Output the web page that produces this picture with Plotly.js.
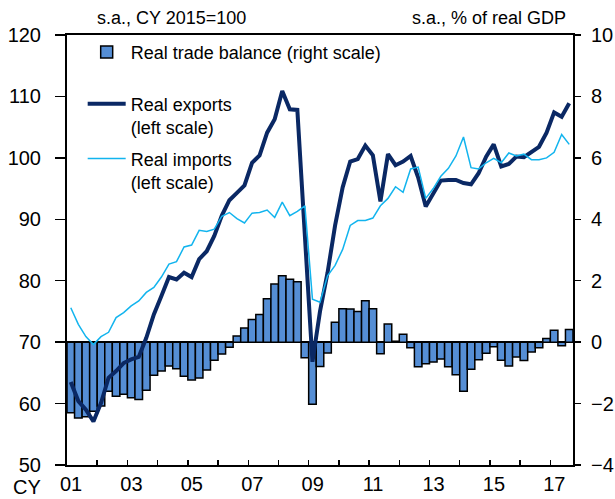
<!DOCTYPE html>
<html>
<head>
<meta charset="utf-8">
<script src="https://cdn.plot.ly/plotly-3.0.1.min.js"></script>
<style>html,body{margin:0;padding:0;background:#fff;}#chart{width:615px;height:499px;}</style>
</head>
<body>
<div id="chart"></div>
<script>
// Quarterly data, CY2001 Q1 .. CY2017 Q3
const startYear = 2001;
const tradeBalance = [
  -2.30, -2.47, -2.43, -2.25, -2.08, -1.60, -1.76, -1.70, -1.81, -1.87,
  -1.57, -1.08, -0.94, -0.78, -0.87, -1.11, -1.23, -1.17, -0.91, -0.59,
  -0.39, -0.17, 0.20, 0.46, 0.74, 0.90, 1.41, 1.89, 2.16, 2.05,
  1.97, -0.51, -2.02, -0.79, -0.35, 0.65, 1.09, 1.08, 1.00, 1.35,
  1.09, -0.38, 0.59, 0.03, 0.26, -0.18, -0.80, -0.70, -0.65, -0.55,
  -0.80, -1.06, -1.60, -0.88, -0.57, -0.36, -0.15, -0.59, -0.78, -0.48,
  -0.60, -0.32, -0.18, 0.12, 0.39, -0.12, 0.41
];
const realExports = [
  63.5, 60.4, 59.0, 57.1, 60.1, 64.2, 65.3, 66.6, 67.2, 67.6,
  70.7, 74.5, 77.5, 80.6, 80.2, 81.3, 80.6, 83.5, 84.8, 87.3,
  90.6, 93.1, 94.3, 95.5, 99.2, 100.4, 104.1, 106.3, 110.9, 107.9,
  107.8, 87.3, 66.8, 75.0, 81.3, 89.0, 95.2, 99.4, 99.8, 102.0,
  100.4, 92.9, 100.6, 98.8, 99.4, 100.3, 96.8, 92.1, 94.2, 96.3,
  96.4, 96.4, 95.9, 95.7, 97.5, 100.2, 102.2, 98.6, 99.0, 100.2,
  100.1, 100.9, 101.8, 104.1, 107.4, 106.7, 108.9
];
const realImports = [
  75.6, 72.9, 70.9, 69.6, 70.9, 71.6, 74.0, 74.8, 75.9, 76.7,
  78.1, 78.9, 80.6, 82.7, 83.1, 85.5, 85.8, 88.2, 88.0, 88.4,
  90.5, 91.1, 90.1, 89.4, 91.0, 91.1, 91.5, 90.3, 92.8, 90.6,
  91.3, 92.2, 77.0, 76.5, 80.8, 82.5, 85.1, 89.0, 89.8, 89.8,
  90.2, 92.2, 93.4, 95.3, 94.4, 98.2, 98.5, 93.4, 95.0, 97.0,
  98.3, 100.3, 103.4, 98.4, 98.2, 99.2, 99.9, 99.2, 100.8, 100.3,
  100.6, 99.7, 99.7, 100.0, 100.9, 103.8, 102.2
];
const tickYears = [2001,2002,2003,2004,2005,2006,2007,2008,2009,2010,2011,2012,2013,2014,2015,2016,2017];
const tickLabels = ['01','','03','','05','','07','','09','','11','','13','','15','','17'];

// quarter midpoints in decimal years
const quarterX = tradeBalance.map((_, i) => startYear + (i + 0.5) / 4);

const FONT = 'Liberation Sans, Arial, sans-serif';
const TICKFONT = {family: FONT, size: 20, color: '#000'};

const traces = [
  {
    type: 'bar', name: 'Real trade balance (right scale)',
    x: quarterX, y: tradeBalance, yaxis: 'y',
    marker: {color: '#558ED5', line: {color: '#000000', width: 1.5}},
    legend: 'legend'
  },
  {
    type: 'scatter', mode: 'lines', name: 'Real exports<br>(left scale)',
    x: quarterX, y: realExports, yaxis: 'y2',
    line: {color: '#0A2864', width: 4},
    legend: 'legend2', legendgroup: 'b'
  },
  {
    type: 'scatter', mode: 'lines', name: 'Real imports<br>(left scale)',
    x: quarterX, y: realImports, yaxis: 'y2',
    line: {color: '#12B4EE', width: 1.5},
    legend: 'legend2', legendgroup: 'c'
  }
];

const legendBase = {
  xanchor: 'left', yanchor: 'top',
  bgcolor: 'rgba(0,0,0,0)', font: {family: FONT, size: 18, color: '#000'},
  itemwidth: 38, valign: 'top', traceorder: 'grouped'
};

const layout = {
  width: 615, height: 499,
  margin: {l: 67, r: 42, t: 35, b: 34},
  paper_bgcolor: '#ffffff', plot_bgcolor: '#ffffff',
  font: {family: FONT, size: 18, color: '#000000'},
  bargap: 0,
  showlegend: true,
  legend: Object.assign({}, legendBase, {x: 0.031, y: 1.003}),
  legend2: Object.assign({}, legendBase, {x: 0.031, y: 0.8826, tracegroupgap: 5}),
  xaxis: {
    type: 'linear', range: [startYear, startYear + tradeBalance.length / 4],
    tickmode: 'array', tickvals: tickYears, ticktext: tickLabels,
    ticks: 'inside', ticklen: 5, tickwidth: 1.5, tickcolor: '#000',
    showline: true, linecolor: '#000', linewidth: 2, mirror: true,
    showgrid: false, zeroline: false,
    ticklabelshift: 4, ticklabelstandoff: 0,
    tickfont: TICKFONT
  },
  yaxis: {
    side: 'right', range: [-4, 10], dtick: 2, tick0: 0,
    ticks: 'outside', ticklen: 6, tickwidth: 1.5, tickcolor: '#000',
    showline: true, linecolor: '#000', linewidth: 2,
    showgrid: false, zeroline: true, zerolinecolor: '#000', zerolinewidth: 1.5,
    ticklabelstandoff: 6,
    tickfont: TICKFONT
  },
  yaxis2: {
    side: 'left', overlaying: 'y', range: [50, 120], dtick: 10, tick0: 50,
    ticks: 'outside', ticklen: 10, tickwidth: 1.5, tickcolor: '#000',
    showline: true, linecolor: '#000', linewidth: 2,
    showgrid: false, zeroline: false,
    ticklabelstandoff: 10,
    tickfont: TICKFONT
  },
  annotations: [
    {text: 's.a., CY 2015=100', xref: 'paper', yref: 'paper', x: 0.055, y: 1, yshift: 17,
     xanchor: 'left', yanchor: 'middle', showarrow: false, font: {family: FONT, size: 18, color: '#000'}},
    {text: 's.a., % of real GDP', xref: 'paper', yref: 'paper', x: 0.99, y: 1, yshift: 17,
     xanchor: 'right', yanchor: 'middle', showarrow: false, font: {family: FONT, size: 18, color: '#000'}},
    {text: 'CY', xref: 'paper', yref: 'paper', x: 0, xshift: -40, y: 0, yshift: -22,
     xanchor: 'center', yanchor: 'middle', showarrow: false, font: TICKFONT}
  ]
};

Plotly.newPlot('chart', traces, layout, {staticPlot: true, displayModeBar: false});
</script>
</body>
</html>
